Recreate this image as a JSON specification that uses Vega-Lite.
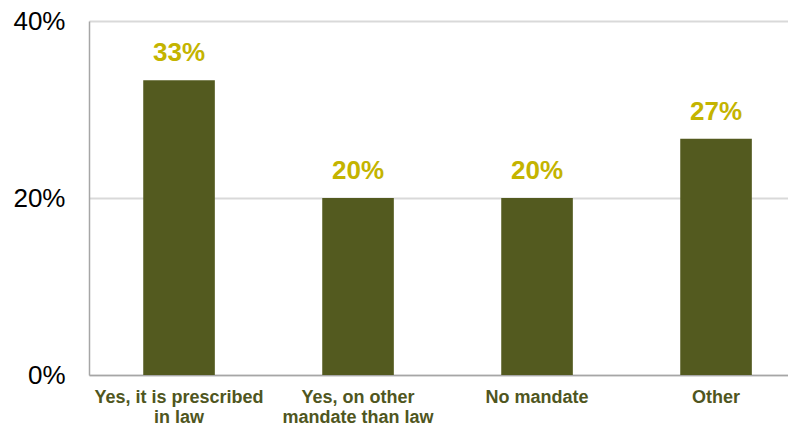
{
  "$schema": "https://vega.github.io/schema/vega-lite/v6.json",
  "width": 699,
  "height": 354,
  "autosize": "none",
  "padding": {"left": 89, "top": 21, "right": 0, "bottom": 51},
  "background": "white",
  "data": {"values": [
    {"category": "Yes, it is prescribed|in law", "share": 0.333},
    {"category": "Yes, on other|mandate than law", "share": 0.20},
    {"category": "No mandate", "share": 0.20},
    {"category": "Other", "share": 0.267}
  ]},
  "config": {"view": {"stroke": null}, "font": "Liberation Sans"},
  "encoding": {
    "x": {"field": "category", "type": "nominal", "sort": null,
      "scale": {"paddingInner": 0.6, "paddingOuter": 0.2525, "align": 0.6},
      "axis": {"title": null, "labelAngle": 0, "ticks": false, "domainColor": "#a6a6a6", "domainWidth": 1.5,
        "labelExpr": "split(datum.label, '|')", "labelFont": "Liberation Sans", "labelFontSize": 18, "labelFontWeight": "bold",
        "labelColor": "#4f561e", "labelPadding": 13, "labelLineHeight": 20}},
    "y": {"field": "share", "type": "quantitative",
      "scale": {"domain": [0, 0.4], "nice": false},
      "axis": {"title": null, "values": [0, 0.2, 0.4], "format": ".0%", "ticks": false, "domainColor": "#a6a6a6", "domainWidth": 1.5,
        "gridColor": "#d9d9d9", "gridWidth": 2, "labelFont": "Liberation Sans", "labelFontSize": 26, "labelColor": "#000000", "labelPadding": 24}}
  },
  "layer": [
    {"mark": {"type": "bar", "color": "#535a1f"}},
    {"mark": {"type": "text", "baseline": "bottom", "dy": -14, "fontSize": 26, "fontWeight": "bold", "color": "#c4b400", "font": "Liberation Sans"},
      "encoding": {"text": {"field": "share", "type": "quantitative", "format": ".0%"}}}
  ]
}
